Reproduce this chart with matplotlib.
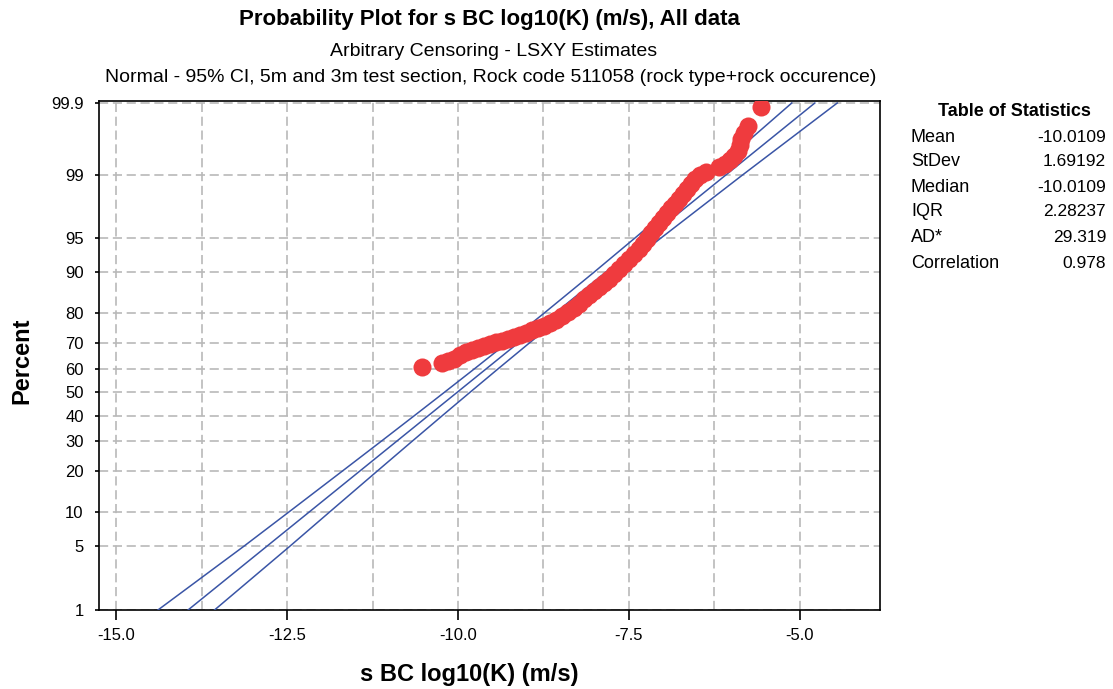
import math
import numpy as np
import matplotlib
matplotlib.use("Agg")
import matplotlib.pyplot as plt
from matplotlib.ticker import FixedLocator, NullFormatter

plt.rcParams['font.family'] = ['Liberation Sans', 'DejaVu Sans']

# observed points (log10 K, percent)
obs_x = [-10.526, -10.234, -10.146, -10.058, -9.971, -9.883, -9.795, -9.708, -9.620,
         -9.532, -9.444, -9.357, -9.269, -9.181, -9.094, -9.006, -8.918, -8.830,
         -8.743, -8.655, -8.567, -8.480, -8.392, -8.304, -8.231, -8.158, -8.085,
         -8.012, -7.939, -7.865, -7.792, -7.719, -7.646, -7.573, -7.500, -7.427,
         -7.354, -7.295, -7.237, -7.178, -7.120, -7.061, -7.003, -6.944, -6.886,
         -6.827, -6.769, -6.711, -6.652, -6.594, -6.535, -6.462, -6.374, -6.184,
         -6.096, -6.023, -5.965, -5.906, -5.877, -5.863, -5.819, -5.760, -5.570]
obs_pct = [60.84, 62.07, 62.88, 64.08, 65.28, 66.45, 67.23, 68.00, 68.76,
           69.51, 70.26, 70.63, 71.37, 72.09, 72.80, 73.51, 74.55, 75.23,
           75.90, 76.89, 77.86, 79.11, 80.32, 81.48, 82.61, 83.95, 84.97,
           85.94, 86.88, 87.77, 88.61, 89.61, 90.55, 91.42, 92.22, 92.97,
           93.67, 94.30, 94.89, 95.53, 96.01, 96.45, 96.85, 97.21, 97.54,
           97.77, 98.04, 98.28, 98.50, 98.69, 98.86, 98.98, 99.07, 99.19,
           99.26, 99.34, 99.42, 99.50, 99.59, 99.66, 99.72, 99.78, 99.885]

# fitted line and 95% CI
fit_pct = [1, 99.9]
fit_x = [-13.947, -4.783]
band_pct = [1, 5, 10, 20, 30, 40, 50, 60, 70, 80, 90, 95, 99, 99.9]
band_lo = [-14.387, -13.130, -12.477, -11.690, -11.124, -10.644, -10.198,
           -9.755, -9.287, -8.747, -8.013, -7.418, -6.319, -5.120]
band_hi = [-13.560, -12.458, -11.881, -11.180, -10.672, -10.235, -9.824,
           -9.409, -8.960, -8.427, -7.672, -7.038, -5.831, -4.455]

y_ticks = [1, 5, 10, 20, 30, 40, 50, 60, 70, 80, 90, 95, 99, 99.9]
y_labels = ['1', '5', '10', '20', '30', '40', '50', '60', '70', '80', '90', '95', '99', '99.9']
x_ticks = [-15.0, -12.5, -10.0, -7.5, -5.0]

stat_names = ['Mean', 'StDev', 'Median', 'IQR', 'AD*', 'Correlation']
stat_vals = ['-10.0109', '1.69192', '-10.0109', '2.28237', '29.319', '0.978']

_erf = np.vectorize(math.erf, otypes=[float])


def cdf(z):
    z = np.asarray(z, float)
    if z.size == 0:
        return z.copy()
    return 0.5 * (1 + _erf(z / math.sqrt(2)))


def ppf(p):
    p = np.clip(np.asarray(p, float), 1e-12, 1 - 1e-12)
    if p.size == 0:
        return p.copy()
    lo = np.full(p.shape, -9.0)
    hi = np.full(p.shape, 9.0)
    for _ in range(55):
        mid = (lo + hi) / 2
        below = cdf(mid) < p
        lo = np.where(below, mid, lo)
        hi = np.where(below, hi, mid)
    return (lo + hi) / 2


def fwd(pct):
    return ppf(np.asarray(pct, float) / 100.0)


def inv(z):
    return 100.0 * cdf(z)


W, H = 1113, 689
fig = plt.figure(figsize=(W / 100, H / 100), dpi=100)
ax = fig.add_axes([99 / W, 1 - 610 / H, 781 / W, 509 / H])
ax.set_yscale('function', functions=(fwd, inv))

blue = '#3a55a6'
red = '#ef3b3e'
ax.plot(band_lo, band_pct, color=blue, lw=1.1, zorder=3)
ax.plot(fit_x, fit_pct, color=blue, lw=1.1, zorder=3)
ax.plot(band_hi, band_pct, color=blue, lw=1.1, zorder=3)
ax.plot(obs_x, obs_pct, 'o', color=red, ms=13, mec='none', zorder=4)

ax.set_xlim(-15.249, -3.83)
ax.set_ylim(1, 99.907)

ax.xaxis.set_major_locator(FixedLocator(x_ticks))
ax.set_xticklabels(['%.1f' % v for v in x_ticks])
ax.xaxis.set_minor_locator(FixedLocator([-13.75, -11.25, -8.75, -6.25]))
ax.xaxis.set_minor_formatter(NullFormatter())
ax.yaxis.set_major_locator(FixedLocator(y_ticks))
ax.set_yticklabels(y_labels)
ax.yaxis.set_minor_locator(FixedLocator([]))

ax.tick_params(axis='x', which='major', direction='out', length=7, width=1.2,
               labelsize=12, pad=6)
ax.tick_params(axis='x', which='minor', length=0)
ax.tick_params(axis='y', direction='out', length=3, width=1.2, labelsize=12, pad=8)

grid_kw = dict(color='#b9b9b9', lw=1.2, linestyle=(0, (5.5, 2.8)))
ax.grid(True, which='major', axis='both', **grid_kw)
ax.grid(True, which='minor', axis='x', **grid_kw)
ax.set_axisbelow(True)
for s in ax.spines.values():
    s.set_linewidth(1.2)
    s.set_color('black')

fig.text(489 / W, 1 - 20 / H, 'Probability Plot for s BC log10(K) (m/s), All data',
         ha='center', va='center', fontsize=16, fontweight='bold')
fig.text(494 / W, 1 - 52 / H, 'Arbitrary Censoring - LSXY Estimates',
         ha='center', va='center', fontsize=14)
fig.text(491 / W, 1 - 77 / H,
         'Normal - 95% CI, 5m and 3m test section, Rock code 511058 (rock type+rock occurence)',
         ha='center', va='center', fontsize=14)
fig.text(469 / W, 1 - 675 / H, 's BC log10(K) (m/s)', ha='center', va='center',
         fontsize=17, fontweight='bold')
fig.text(22 / W, 1 - 361 / H, 'Percent', ha='center', va='center', rotation=90,
         fontsize=17, fontweight='bold')

fig.text(1014 / W, 1 - 111 / H, 'Table of Statistics', ha='center', va='center',
         fontsize=13, fontweight='bold')
row_y = [138, 162, 188, 212, 237, 263]
for name, val, yy in zip(stat_names, stat_vals, row_y):
    fig.text(911 / W, 1 - yy / H, name, ha='left', va='center', fontsize=13)
    fig.text(1106 / W, 1 - yy / H, val, ha='right', va='center', fontsize=12.5)

fig.savefig('out.png', dpi=100)
